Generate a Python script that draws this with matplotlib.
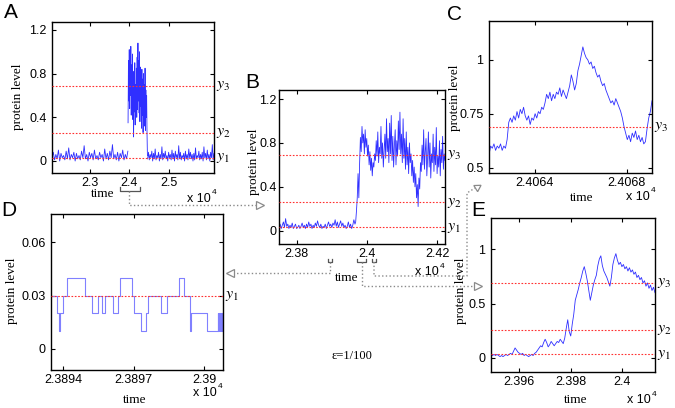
import numpy as np
import matplotlib
matplotlib.use('Agg')
import matplotlib.pyplot as plt
from matplotlib.ticker import FuncFormatter

plt.rcParams['font.family'] = ['Liberation Sans', 'DejaVu Sans']
plt.rcParams['mathtext.fontset'] = 'stix'

# thresholds
y1, y2, y3 = 0.03, 0.26, 0.69

# panel A: whole switching event
a_t1 = np.linspace(22040, 23960, 60)
a_v1 = [0.03, 0.08, 0.01, 0.06, 0.02, 0.10, 0.00, 0.07, 0.03, 0.05,
        0.01, 0.09, 0.02, 0.12, 0.01, 0.06, 0.03, 0.08, 0.00, 0.07,
        0.02, 0.05, 0.01, 0.09, 0.03, 0.14, 0.02, 0.06, 0.00, 0.08,
        0.03, 0.07, 0.01, 0.10, 0.02, 0.05, 0.01, 0.08, 0.03, 0.06,
        0.00, 0.11, 0.02, 0.07, 0.01, 0.09, 0.03, 0.15, 0.02, 0.06,
        0.01, 0.08, 0.00, 0.07, 0.03, 0.10, 0.01, 0.06, 0.02, 0.09]
a_t2 = np.linspace(23965, 24455, 50)
a_v2 = [0.35, 0.92, 0.55, 1.02, 0.48, 0.95, 0.60, 1.05, 0.42, 0.88,
        0.50, 0.98, 0.38, 0.82, 0.22, 0.76, 0.45, 0.90, 0.33, 0.70,
        0.52, 0.85, 0.40, 0.95, 0.47, 1.08, 0.55, 0.92, 0.44, 1.00,
        0.36, 0.86, 0.50, 0.78, 0.30, 0.84, 0.42, 0.75, 0.26, 0.80,
        0.38, 0.70, 0.32, 0.85, 0.28, 0.65, 0.40, 0.60, 0.25, 0.05]
a_t3 = np.linspace(24460, 26140, 80)
a_v3 = [0.02, 0.08, 0.01, 0.06, 0.03, 0.09, 0.00, 0.07, 0.02, 0.11,
        0.01, 0.05, 0.03, 0.08, 0.00, 0.06, 0.02, 0.13, 0.01, 0.07,
        0.03, 0.09, 0.02, 0.05, 0.00, 0.08, 0.03, 0.06, 0.01, 0.10,
        0.02, 0.07, 0.00, 0.09, 0.03, 0.06, 0.01, 0.14, 0.02, 0.08,
        0.01, 0.05, 0.03, 0.07, 0.00, 0.09, 0.02, 0.06, 0.01, 0.11,
        0.03, 0.08, 0.02, 0.06, 0.00, 0.07, 0.01, 0.12, 0.02, 0.05,
        0.03, 0.09, 0.01, 0.06, 0.02, 0.08, 0.00, 0.13, 0.03, 0.07,
        0.01, 0.10, 0.02, 0.06, 0.00, 0.08, 0.03, 0.15, 0.01, 0.07]

# panel B: zoom on the switch
b_t1 = np.linspace(23750, 23966, 70)
b_v1 = [0.03, 0.06, 0.02, 0.05, 0.08, 0.03, 0.11, 0.04, 0.06, 0.02,
        0.05, 0.03, 0.07, 0.02, 0.04, 0.06, 0.02, 0.03, 0.05, 0.02,
        0.04, 0.07, 0.03, 0.05, 0.02, 0.06, 0.03, 0.08, 0.04, 0.06,
        0.02, 0.05, 0.03, 0.07, 0.04, 0.09, 0.05, 0.03, 0.06, 0.02,
        0.04, 0.03, 0.06, 0.02, 0.05, 0.08, 0.04, 0.06, 0.03, 0.07,
        0.05, 0.10, 0.04, 0.08, 0.03, 0.06, 0.09, 0.04, 0.07, 0.03,
        0.05, 0.02, 0.04, 0.08, 0.03, 0.06, 0.02, 0.05, 0.10, 0.06]
b_t2 = np.linspace(23968, 24222, 114)
b_v2 = [0.08, 0.18, 0.30, 0.52,
        0.30, 0.62, 0.85, 0.72, 0.95, 0.80, 0.88, 0.70, 0.92, 0.76,
        0.84, 0.68, 0.78, 0.60, 0.72, 0.55, 0.66, 0.50, 0.62, 0.58,
        0.70, 0.64, 0.82, 0.68, 0.90, 0.62, 0.76, 0.70, 0.95, 0.66,
        0.80, 0.58, 0.74, 0.88, 0.66, 1.02, 0.72, 0.84, 0.62, 0.98,
        0.70, 1.05, 0.64, 0.86, 0.58, 0.78, 0.92, 0.60, 0.82, 0.68,
        1.00, 0.74, 1.08, 0.70, 0.88, 0.62, 1.02, 0.66, 0.84, 0.56,
        0.90, 0.60, 0.76, 0.52, 0.80, 0.62, 0.70, 0.50, 0.64, 0.44,
        0.58, 0.40, 0.52, 0.30, 0.42, 0.22, 0.48, 0.38, 0.62, 0.54,
        0.78, 0.60, 0.92, 0.56, 0.72, 0.84, 0.50, 0.66, 0.90, 0.58,
        0.80, 0.48, 0.70, 0.62, 0.88, 0.54, 0.76, 0.60, 0.94, 0.52,
        0.68, 0.58, 0.82, 0.50, 0.74, 0.62, 0.86, 0.56, 0.70, 0.64]

# panel C: high state detail
c_t = np.linspace(24062, 24069.1, 100)
c_v = [0.56, 0.60, 0.59, 0.61, 0.58, 0.60, 0.59, 0.61, 0.58, 0.60,
       0.59, 0.63, 0.71, 0.73, 0.71, 0.74, 0.72, 0.76, 0.73, 0.77,
       0.75, 0.78, 0.74, 0.72, 0.74, 0.70, 0.73, 0.72, 0.75, 0.73,
       0.76, 0.75, 0.78, 0.77, 0.80, 0.84, 0.82, 0.85, 0.81, 0.84,
       0.82, 0.85, 0.84, 0.87, 0.83, 0.86, 0.84, 0.82, 0.85, 0.88,
       0.93, 0.90, 0.86, 0.89, 0.95, 0.98, 1.02, 1.06, 1.03, 1.01,
       1.00, 0.98, 0.99, 0.96, 0.97, 0.94, 0.92, 0.93, 0.90, 0.88,
       0.89, 0.86, 0.84, 0.82, 0.80, 0.81, 0.79, 0.82, 0.80, 0.78,
       0.76, 0.73, 0.69, 0.66, 0.63, 0.65, 0.62, 0.66, 0.64, 0.67,
       0.63, 0.65, 0.62, 0.64, 0.61, 0.62, 0.68, 0.73, 0.76, 0.81]

# panel D: low state, discrete levels
d_t = [23893.55, 23893.72, 23893.82, 23893.86, 23893.97, 23894.17, 23894.91,
       23895.23, 23895.49, 23895.63, 23895.76, 23896.11, 23896.31, 23896.43,
       23896.93, 23897.00, 23897.32, 23897.51, 23897.61, 23898.16, 23898.40,
       23898.91, 23899.15, 23899.41, 23899.44, 23900.13, 23900.57, 23900.60,
       23900.64, 23900.67, 23900.71, 23900.74, 23900.80]
d_v = [0.03, 0.02, 0.01, 0.02, 0.03, 0.04, 0.03,
       0.02, 0.03, 0.02, 0.03, 0.02, 0.03, 0.04,
       0.03, 0.02, 0.01, 0.02, 0.03, 0.02, 0.03,
       0.04, 0.03, 0.01, 0.02, 0.01, 0.02, 0.01,
       0.02, 0.01, 0.02, 0.01, 0.01]

# panel E: the transition
e_t = np.linspace(23949, 24012.7, 110)
e_v = [0.03, 0.02, 0.03, 0.02, 0.03, 0.02, 0.01, 0.02, 0.01, 0.02,
       0.03, 0.02, 0.03, 0.04, 0.03, 0.06, 0.09, 0.07, 0.05, 0.04,
       0.03, 0.04, 0.02, 0.03, 0.02, 0.01, 0.02, 0.03, 0.02, 0.04,
       0.05, 0.07, 0.09, 0.11, 0.10, 0.14, 0.17, 0.14, 0.10, 0.12,
       0.15, 0.13, 0.11, 0.13, 0.15, 0.14, 0.17, 0.15, 0.13, 0.18,
       0.27, 0.35, 0.24, 0.20, 0.31, 0.40, 0.53, 0.58, 0.63, 0.69,
       0.74, 0.80, 0.84, 0.78, 0.71, 0.62, 0.53, 0.60, 0.67, 0.72,
       0.76, 0.85, 0.91, 0.94, 0.85, 0.80, 0.77, 0.74, 0.70, 0.66,
       0.74, 0.86, 0.92, 0.96, 0.90, 0.86, 0.88, 0.84, 0.86, 0.82,
       0.84, 0.80, 0.83, 0.79, 0.81, 0.77, 0.79, 0.74, 0.76, 0.72,
       0.74, 0.69, 0.71, 0.66, 0.69, 0.64, 0.67, 0.62, 0.65, 0.60]

W, H = 675, 408
fig = plt.figure(figsize=(W / 100, H / 100), dpi=100)

def add_box(l, t, r, b):
    return fig.add_axes([l / W, 1 - b / H, (r - l) / W, (b - t) / H])

fmt = FuncFormatter(lambda v, p: f'{v / 1e4:g}')
yfmt = FuncFormatter(lambda v, p: f'{v:g}')

def style(ax, xlim, ylim, xticks, yticks, levels, ypad=4.0):
    ax.set_xlim(*xlim)
    ax.set_ylim(*ylim)
    ax.set_xticks(xticks)
    ax.set_yticks(yticks)
    ax.xaxis.set_major_formatter(fmt)
    ax.yaxis.set_major_formatter(yfmt)
    ax.tick_params(direction='in', top=True, right=True, length=3, width=0.8,
                   labelsize=9)
    ax.tick_params(axis='x', pad=3)
    ax.tick_params(axis='y', pad=ypad)
    for s in ax.spines.values():
        s.set_linewidth(1.0)
    names = {y1: r'$y_1$', y2: r'$y_2$', y3: r'$y_3$'}
    for lv in levels:
        ax.axhline(lv, color='#ff3030', ls=(0, (1.5, 1.5)), lw=0.8, zorder=3)
        ax.text(1.012, lv, names[lv], transform=ax.get_yaxis_transform(),
                ha='left', va='center', fontsize=11.5)

blue = '#0a0aff'

axA = add_box(52, 22, 214, 173)
for t, v in [(a_t1, a_v1), (a_t2, a_v2), (a_t3, a_v3)]:
    axA.plot(t, v, color=blue, lw=0.6, alpha=0.85)
style(axA, (22040, 26140), (-0.11, 1.273), [23000, 24000, 25000],
      [0, 0.4, 0.8, 1.2], [y1, y2, y3])

axB = add_box(279, 90, 445, 244)
axB.plot(np.concatenate([b_t1, b_t2]), b_v1 + b_v2, color=blue, lw=0.6, alpha=0.85)
style(axB, (23750, 24222), (-0.121, 1.282), [23800, 24000, 24200],
      [0, 0.4, 0.8, 1.2], [y1, y2, y3], ypad=1.5)

axC = add_box(489, 21, 652, 173)
axC.plot(c_t, c_v, color=blue, lw=0.6, alpha=0.85)
style(axC, (24062, 24069.1), (0.475, 1.18), [24064, 24068],
      [0.5, 0.75, 1], [y3])

axD = add_box(51, 214, 223, 370)
axD.plot(d_t, d_v, color='#8080ff', lw=0.8, drawstyle='steps-post')
style(axD, (23893.47, 23900.8), (-0.012, 0.076), [23894, 23897, 23900],
      [0, 0.03, 0.06], [y1])

axE = add_box(491, 218, 655, 372)
axE.plot(e_t, e_v, color=blue, lw=0.6, alpha=0.85)
style(axE, (23949, 24012.7), (-0.132, 1.289), [23960, 23980, 24000],
      [0, 0.5, 1], [y1, y2, y3])

# overlay in pixel units for labels and connectors
ov = fig.add_axes([0, 0, 1, 1])
ov.set_xlim(0, W)
ov.set_ylim(H, 0)
ov.axis('off')
ov.patch.set_alpha(0)

serif = ['Liberation Serif', 'DejaVu Serif']
for x, y, s in [(11, 13, 'A'), (252, 83, 'B'), (454, 14, 'C'), (9, 210, 'D'), (478, 210, 'E')]:
    ov.text(x, y, s, fontsize=15, ha='center', va='center')
for x, y in [(18, 97), (254, 162), (455, 98), (12, 291), (461, 291)]:
    ov.text(x, y, 'protein level', family=serif, fontsize=9.5, rotation=90,
            ha='center', va='center')
for x, y in [(103, 194), (347, 278), (582, 198), (135, 400), (576, 400)]:
    ov.text(x, y, 'time', family=serif, fontsize=9.5, ha='center', va='center')
for x, y in [(187, 199), (415, 272), (626, 197), (193, 393), (627, 400)]:
    ov.text(x, y, 'x 10', fontsize=9, ha='left', va='center')
    ov.text(x + 25, y - 6, '4', fontsize=6, ha='left', va='center')
ov.text(352, 356, 'ε=1/100', family=serif, fontsize=9, ha='center', va='center')

gray = '#8a8a8a'
dark = '#555555'

def bracket(x0, x1, y, h=3):
    ov.plot([x0, x0, x1, x1], [y - h, y, y, y - h], color=dark, lw=0.9)

def path(xs, ys):
    ov.plot(xs, ys, color=gray, ls=':', lw=1.0)

bracket(120, 140, 191, 4)
path([129, 129, 257], [191, 205, 205])
ov.plot(260, 205, marker='>', ms=6, mfc='white', mec=gray, mew=0.9)

bracket(328, 332, 262, 3)
path([330, 330, 233], [262, 273, 273])
ov.plot(230, 273, marker='<', ms=6, mfc='white', mec=gray, mew=0.9)

bracket(357, 366, 262, 3)
path([362, 362, 475], [262, 286, 286])
ov.plot(478, 286, marker='>', ms=6, mfc='white', mec=gray, mew=0.9)

bracket(372, 376, 262, 3)
path([374, 374, 467, 467, 475], [262, 276, 276, 193, 188])
ov.plot(477, 187, marker=(3, 0, -58), ms=6, mfc='white', mec=gray, mew=0.9)

fig.savefig('out.png', dpi=100)
